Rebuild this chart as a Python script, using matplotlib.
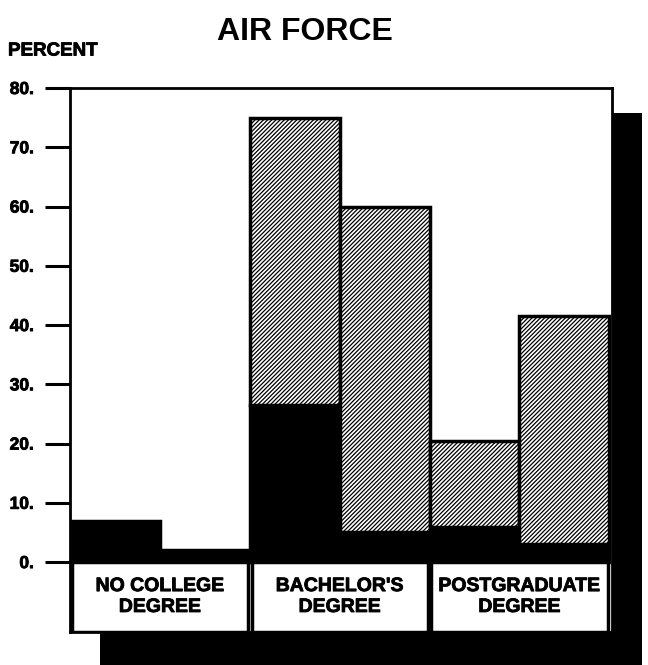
import numpy as np
import matplotlib
matplotlib.use('Agg')
import matplotlib.pyplot as plt
import matplotlib.patheffects as pe
from matplotlib.patches import Rectangle

plt.rcParams['font.family'] = ['Liberation Sans', 'DejaVu Sans']
plt.rcParams['hatch.linewidth'] = 0.9

# data
categories = ['NO COLLEGE\nDEGREE', "BACHELOR'S\nDEGREE", 'POSTGRADUATE\nDEGREE']
solid_part = [7.0, 2.0, 26.5, 5.0, 6.0, 3.0]      # black bottom segment
bar_total = [7.0, 2.0, 75.0, 60.0, 20.5, 41.5]    # top of each bar
yticks = [0, 10, 20, 30, 40, 50, 60, 70, 80]
ytick_labels = ['0.', '10.', '20.', '30.', '40.', '50.', '60.', '70.', '80.']

W, H = 648, 665
fig = plt.figure(figsize=(W / 100, H / 100), dpi=100)
heavy = [pe.withStroke(linewidth=0.6, foreground='black')]

# drop shadow behind the whole panel
shadow = Rectangle((100 / W, -0.05), 542 / W, 1 - 113 / H + 0.05,
                   transform=fig.transFigure, facecolor='black',
                   edgecolor='none', zorder=-5)
fig.add_artist(shadow)

ax = fig.add_axes([70 / W, 1 - 632 / H, 542 / W, (632 - 88) / H])
ax.set_facecolor('white')
ymin = -11.8
ax.set_ylim(ymin, 80)
ax.set_xlim(0, 6.03)

x = np.arange(len(bar_total)) + 0.5
solid = np.array(solid_part)
hatched = np.array(bar_total) - solid

ax.bar(x, solid, width=1.0, color='black', edgecolor='black', linewidth=2.5, zorder=2)
mask = hatched > 0
ax.bar(x[mask], hatched[mask], bottom=solid[mask], width=1.0, facecolor='white',
       edgecolor='black', hatch='/' * 8, linewidth=2.5, zorder=2)

# category boxes under the zero line
for g, label in enumerate(categories):
    ax.add_patch(Rectangle((2 * g + 0.02, ymin), 1.96, -ymin, facecolor='white',
                           edgecolor='black', linewidth=2.5, zorder=3))
    ax.text(2 * g + 1, ymin / 2, label, ha='center', va='center', fontsize=14,
            fontweight='bold', linespacing=1.3, zorder=4, path_effects=heavy)

ax.set_xticks([])
ax.set_yticks(yticks)
ax.set_yticklabels(ytick_labels, fontsize=12.5, fontweight='bold')
for t in ax.get_yticklabels():
    t.set_path_effects(heavy)
ax.tick_params(axis='y', direction='out', length=18, width=2.2, pad=8)
for side in ['left', 'top', 'right', 'bottom']:
    ax.spines[side].set_linewidth(2)

fig.text(305 / W, 1 - 32 / H, 'AIR FORCE', ha='center', va='center',
         fontsize=23, fontweight='bold')
fig.text(8 / W, 1 - 51 / H, 'PERCENT', ha='left', va='center',
         fontsize=13.5, fontweight='bold', path_effects=heavy)

fig.savefig('out.png', dpi=100)
